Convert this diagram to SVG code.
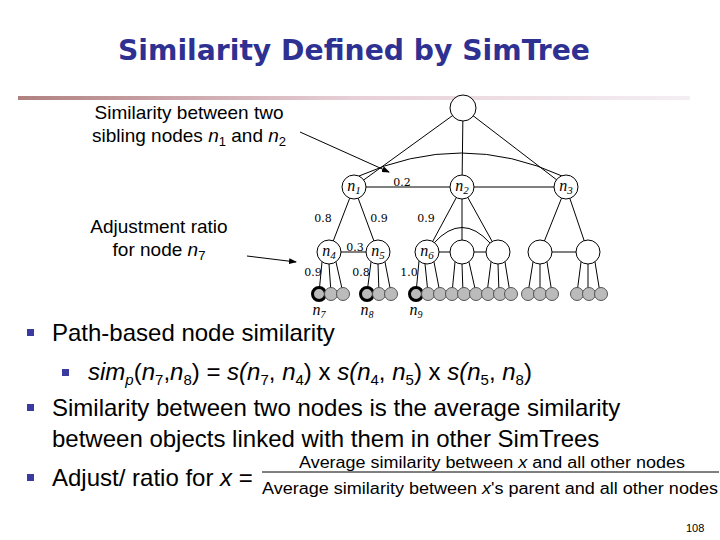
<svg xmlns="http://www.w3.org/2000/svg" width="720" height="540" viewBox="0 0 720 540">
<defs>
<linearGradient id="bar" x1="0" x2="1"><stop offset="0" stop-color="#b08080"/><stop offset="0.5" stop-color="#e8d0d8"/><stop offset="1" stop-color="#f4eef2"/></linearGradient>
<marker id="ah" markerWidth="8" markerHeight="6" refX="7" refY="3" orient="auto" markerUnits="userSpaceOnUse"><path d="M0,0 L8,3 L0,6 z" fill="#000"/></marker>
<style>
.n{fill:#fff;stroke:#000;stroke-width:1}
.l{fill:#bbb;stroke:#555;stroke-width:1}
.k{fill:#bbb;stroke:#000;stroke-width:3}
.e{stroke:#000;stroke-width:1;fill:none}
.s{font-family:"DejaVu Serif","Liberation Serif",serif;font-size:11px}
.i{font-family:"Liberation Serif",serif;font-style:italic;font-size:16px}
.t{font-family:"Liberation Sans",Arial,sans-serif;font-size:24px}
.c{font-family:"Liberation Sans",Arial,sans-serif;font-size:19px}
.f{font-family:"Liberation Sans",Arial,sans-serif;font-size:16px}
.b{fill:#3a3aa0}
</style>
</defs>
<rect width="720" height="540" fill="#fff"/>
<text x="354" y="60" text-anchor="middle" font-family="'DejaVu Sans',sans-serif" font-weight="bold" font-size="29" fill="#2e3192" textLength="472" lengthAdjust="spacingAndGlyphs">Similarity Defined by SimTree</text>
<rect x="18" y="96" width="672" height="4" fill="url(#bar)"/>
<g id="connectors">
<line class="e" x1="463" y1="108" x2="354" y2="187"/>
<line class="e" x1="463" y1="108" x2="462" y2="187"/>
<line class="e" x1="463" y1="108" x2="566" y2="187"/>
<path class="e" d="M359,176 Q462,130 562,176"/>
<line class="e" x1="354" y1="187" x2="566" y2="187"/>
<line class="e" x1="354" y1="187" x2="329" y2="252"/>
<line class="e" x1="354" y1="187" x2="378" y2="252"/>
<line class="e" x1="462" y1="187" x2="427" y2="252"/>
<line class="e" x1="462" y1="187" x2="462" y2="252"/>
<line class="e" x1="462" y1="187" x2="498" y2="252"/>
<line class="e" x1="566" y1="187" x2="540" y2="252"/>
<line class="e" x1="566" y1="187" x2="588" y2="252"/>
<line class="e" x1="329" y1="252" x2="378" y2="252"/>
<line class="e" x1="427" y1="252" x2="498" y2="252"/>
<line class="e" x1="540" y1="252" x2="588" y2="252"/>
<path class="e" d="M434,243 Q462,212 490,243"/>
<path class="e" d="M322,262 L319,293 M329,264 L331,293 M336,262 L343,293"/>
<path class="e" d="M371,262 L367,293 M378,264 L379,293 M385,262 L391,293"/>
<path class="e" d="M419,261 L416,293 M425,264 L428,293 M434,262 L440,293"/>
<path class="e" d="M455,262 L452,293 M462,264 L463,293 M469,262 L476,293"/>
<path class="e" d="M491,262 L487,293 M498,264 L499,293 M505,262 L510,293"/>
<path class="e" d="M533,262 L528,293 M540,264 L540,293 M547,262 L552,293"/>
<path class="e" d="M581,262 L577,293 M588,264 L588,293 M595,262 L600,293"/>
<line class="e" x1="300" y1="132" x2="389" y2="172" stroke-width="1.5" marker-end="url(#ah)"/>
<line class="e" x1="247" y1="256" x2="296" y2="262" stroke-width="1.5" marker-end="url(#ah)"/>
</g>
<g id="root"><circle class="n" cx="463" cy="108" r="13"/></g>
<g id="n1"><circle class="n" cx="354" cy="187" r="12"/><text class="i" x="354" y="191" text-anchor="middle">n<tspan font-size="11" dy="3">1</tspan></text></g>
<g id="n2"><circle class="n" cx="462" cy="187" r="12"/><text class="i" x="462" y="191" text-anchor="middle">n<tspan font-size="11" dy="3">2</tspan></text></g>
<g id="n3"><circle class="n" cx="566" cy="187" r="12"/><text class="i" x="566" y="191" text-anchor="middle">n<tspan font-size="11" dy="3">3</tspan></text></g>
<g id="n4"><circle class="n" cx="329" cy="252" r="12"/><text class="i" x="329" y="256" text-anchor="middle">n<tspan font-size="11" dy="3">4</tspan></text></g>
<g id="n5"><circle class="n" cx="378" cy="252" r="12"/><text class="i" x="378" y="256" text-anchor="middle">n<tspan font-size="11" dy="3">5</tspan></text></g>
<g id="n6"><circle class="n" cx="427" cy="252" r="12"/><text class="i" x="427" y="256" text-anchor="middle">n<tspan font-size="11" dy="3">6</tspan></text></g>
<g id="m1"><circle class="n" cx="462" cy="252" r="12"/></g>
<g id="m2"><circle class="n" cx="498" cy="252" r="12"/></g>
<g id="m3"><circle class="n" cx="540" cy="252" r="12"/></g>
<g id="m4"><circle class="n" cx="588" cy="252" r="12"/></g>
<g id="leaves">
<circle class="k" cx="319" cy="294" r="6.5"/><circle class="l" cx="331" cy="294" r="6.5"/><circle class="l" cx="343" cy="294" r="6.5"/>
<circle class="k" cx="367" cy="294" r="6.5"/><circle class="l" cx="379" cy="294" r="6.5"/><circle class="l" cx="391" cy="294" r="6.5"/>
<circle class="k" cx="416" cy="294" r="6.5"/><circle class="l" cx="428" cy="294" r="6.5"/><circle class="l" cx="440" cy="294" r="6.5"/>
<circle class="l" cx="452" cy="294" r="6.5"/><circle class="l" cx="464" cy="294" r="6.5"/><circle class="l" cx="476" cy="294" r="6.5"/>
<circle class="l" cx="488" cy="294" r="6.5"/><circle class="l" cx="500" cy="294" r="6.5"/><circle class="l" cx="511" cy="294" r="6.5"/>
<circle class="l" cx="528" cy="294" r="6.5"/><circle class="l" cx="540" cy="294" r="6.5"/><circle class="l" cx="552" cy="294" r="6.5"/>
<circle class="l" cx="577" cy="294" r="6.5"/><circle class="l" cx="589" cy="294" r="6.5"/><circle class="l" cx="601" cy="294" r="6.5"/>
</g>
<g id="labels">
<text class="s" x="402" y="186" text-anchor="middle">0.2</text>
<text class="s" x="323" y="222" text-anchor="middle">0.8</text>
<text class="s" x="379" y="222" text-anchor="middle">0.9</text>
<text class="s" x="426" y="222" text-anchor="middle">0.9</text>
<text class="s" x="355" y="251" text-anchor="middle">0.3</text>
<text class="s" x="313" y="276" text-anchor="middle">0.9</text>
<text class="s" x="361" y="276" text-anchor="middle">0.8</text>
<text class="s" x="409" y="276" text-anchor="middle">1.0</text>
<text class="i" x="319" y="315" text-anchor="middle" font-size="15">n<tspan font-size="10" dy="3">7</tspan></text>
<text class="i" x="367" y="315" text-anchor="middle" font-size="15">n<tspan font-size="10" dy="3">8</tspan></text>
<text class="i" x="416" y="315" text-anchor="middle" font-size="15">n<tspan font-size="10" dy="3">9</tspan></text>
</g>
<text class="c" x="189" y="119" text-anchor="middle">Similarity between two</text>
<text class="c" x="189" y="142" text-anchor="middle">sibling nodes <tspan font-style="italic">n</tspan><tspan font-size="13" dy="4">1</tspan><tspan dy="-4"> and </tspan><tspan font-style="italic">n</tspan><tspan font-size="13" dy="4">2</tspan></text>
<text class="c" x="159" y="233" text-anchor="middle">Adjustment ratio</text>
<text class="c" x="159" y="256" text-anchor="middle">for node <tspan font-style="italic">n</tspan><tspan font-size="13" dy="4">7</tspan></text>
<rect class="b" x="27" y="329" width="7" height="7"/>
<text class="t" x="52" y="341">Path-based node similarity</text>
<rect class="b" x="62" y="369" width="7" height="7"/>
<text class="t" x="88" y="380" font-style="italic">sim<tspan font-size="15" dy="5">p</tspan><tspan dy="-5" font-style="normal">(</tspan>n<tspan font-size="15" dy="5" font-style="normal">7</tspan><tspan dy="-5" font-style="normal">,</tspan>n<tspan font-size="15" dy="5" font-style="normal">8</tspan><tspan dy="-5" font-style="normal">) = </tspan>s(n<tspan font-size="15" dy="5" font-style="normal">7</tspan><tspan dy="-5" font-style="normal">, </tspan>n<tspan font-size="15" dy="5" font-style="normal">4</tspan><tspan dy="-5" font-style="normal">) x </tspan>s(n<tspan font-size="15" dy="5" font-style="normal">4</tspan><tspan dy="-5" font-style="normal">, </tspan>n<tspan font-size="15" dy="5" font-style="normal">5</tspan><tspan dy="-5" font-style="normal">) x </tspan>s(n<tspan font-size="15" dy="5" font-style="normal">5</tspan><tspan dy="-5" font-style="normal">, </tspan>n<tspan font-size="15" dy="5" font-style="normal">8</tspan><tspan dy="-5" font-style="normal">)</tspan></text>
<rect class="b" x="27" y="404" width="7" height="7"/>
<text class="t" x="52" y="416">Similarity between two nodes is the average similarity</text>
<text class="t" x="52" y="447">between objects linked with them in other SimTrees</text>
<rect class="b" x="27" y="474" width="7" height="7"/>
<text class="t" x="52" y="486">Adjust/ ratio for <tspan font-style="italic">x</tspan> =</text>
<line x1="262" y1="472" x2="719" y2="472" stroke="#000" stroke-width="1"/>
<text class="f" x="492" y="468" text-anchor="middle" textLength="386" lengthAdjust="spacingAndGlyphs">Average similarity between <tspan font-style="italic">x</tspan> and all other nodes</text>
<text class="f" x="490" y="494" text-anchor="middle" textLength="456" lengthAdjust="spacingAndGlyphs">Average similarity between <tspan font-style="italic">x</tspan>'s parent and all other nodes</text>
<text x="686" y="532" font-family="'Liberation Sans',sans-serif" font-size="11">108</text>
</svg>
